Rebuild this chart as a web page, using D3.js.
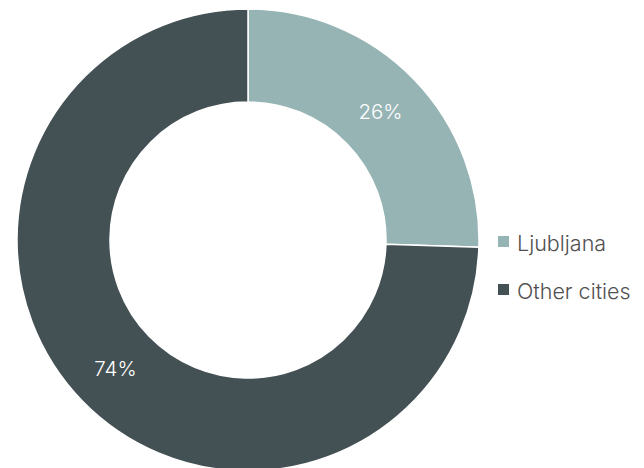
<!DOCTYPE html>
<html>
<head>
<meta charset="utf-8">
<script src="https://cdn.jsdelivr.net/npm/d3@7"></script>
<style>
  body { margin: 0; background: #fff; }
  svg { display: block; font-family: Inter, "Noto Sans", sans-serif; }
</style>
</head>
<body>
<svg id="canvas" width="644" height="468"></svg>
<script>
const CITIES = ["Ljubljana", "Other cities"];
const SHARES = [25.5, 74.5];
const SHARE_LABELS = ["26%", "74%"];
const COLORS = ["#97b4b5", "#435154"];

let canvas = d3.select('#canvas')

let cx = 248, cy = 240
let outerR = 231, innerR = 138

let pie = d3.pie().sort(null).value(d => d.value)
let arc = d3.arc().innerRadius(innerR).outerRadius(outerR)

let slices = pie(CITIES.map((c, i) => ({ city: c, value: SHARES[i], label: SHARE_LABELS[i] })))

let donut = canvas.append('g')
    .attr('transform', 'translate(' + cx + ',' + cy + ')')

donut.selectAll('path')
    .data(slices)
    .enter()
    .append('path')
    .attr('d', arc)
    .attr('fill', (d, i) => COLORS[i])
    .attr('stroke', '#fff')
    .attr('stroke-width', 1.5)

donut.selectAll('text')
    .data(slices)
    .enter()
    .append('text')
    .attr('transform', d => 'translate(' + arc.centroid(d) + ')')
    .attr('text-anchor', 'middle')
    .attr('dy', '0.35em')
    .attr('fill', '#fff')
    .attr('font-size', 20.5)
    .attr('font-weight', 300)
    .text(d => d.data.label)

// legend
let legend = canvas.append('g')
    .attr('transform', 'translate(498, 236)')

let item = legend.selectAll('g')
    .data(CITIES)
    .enter()
    .append('g')
    .attr('transform', (d, i) => 'translate(0,' + i * 48 + ')')

item.append('rect')
    .attr('width', 11)
    .attr('height', 11)
    .attr('fill', (d, i) => COLORS[i])

item.append('text')
    .attr('x', 19)
    .attr('y', 14.5)
    .attr('fill', '#505050')
    .attr('font-size', 21.5)
    .attr('font-weight', 300)
    .text(d => d)
</script>
</body>
</html>
